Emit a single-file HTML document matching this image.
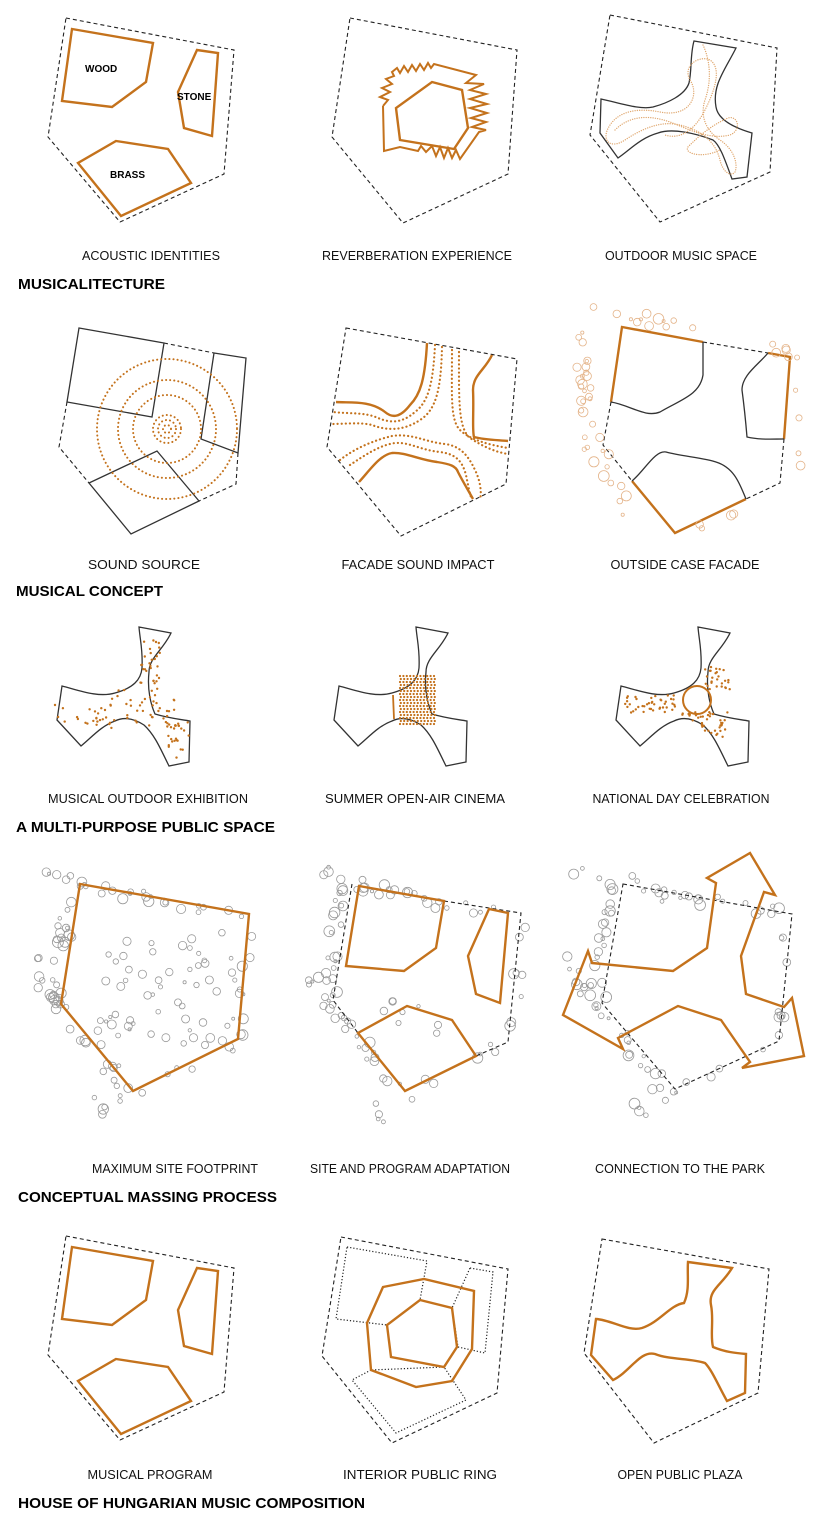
<!DOCTYPE html>
<html><head><meta charset="utf-8">
<style>
html,body{margin:0;padding:0;background:#fff;}
svg{display:block;}
.o{fill:none;stroke:#c4721c;stroke-width:2.4;stroke-linejoin:miter;}
.k{fill:none;stroke:#333;stroke-width:1.3;}
.d{fill:none;stroke:#222;stroke-width:1.1;stroke-dasharray:4 3;}
.dt{fill:none;stroke:#222;stroke-width:1.2;stroke-dasharray:1.2 2;}
.od{fill:none;stroke:#c4721c;stroke-width:2.2;stroke-dasharray:0.1 4;stroke-linecap:round;}
.ol{fill:none;stroke:#e0a870;stroke-width:1.3;stroke-dasharray:0.1 2.2;stroke-linecap:round;}
.lb{font-family:"Liberation Sans Narrow","Liberation Sans",sans-serif;font-size:13px;fill:#111;}
.hd{font-family:"Liberation Sans Narrow","Liberation Sans",sans-serif;font-size:15px;font-weight:bold;fill:#000;}
.sm{font-family:"Liberation Sans",sans-serif;font-size:10px;font-weight:bold;fill:#000;}
</style></head><body>
<svg id="s" width="818" height="1523" viewBox="0 0 818 1523" xmlns="http://www.w3.org/2000/svg">
<!-- ROW 1 -->
<polygon class="d" points="66,18 234,50 224,174 120,222 48,137"/>
<polygon class="o" points="72,29 153,43 146,82 112,107 62,101"/>
<polygon class="o" points="197,50 218,53 212,136 184,128 178,92"/>
<polygon class="o" points="116,141 168,149 191,183 121,216 78,163"/>
<text class="sm" x="85" y="72">WOOD</text>
<text class="sm" x="177" y="100">STONE</text>
<text class="sm" x="110" y="178">BRASS</text>

<polygon class="d" points="350,18 517,50 508,174 403,223 332,137"/>
<polygon class="o" points="432,82 462,90 468,128 454,149 400,140 396,108"/>
<polyline class="o" style="stroke-width:2" points="383,106 388,100 380,97 390,92 382,88 392,84 386,79 394,76 392,72 397,68 400,73 404,66 408,72 412,65 416,71 420,64 424,70 428,63 431,68 434,64 476,75 466,83 484,84 470,90 486,94 470,99 487,104 470,108 487,113 471,118 486,122 472,127 486,130 479,132 460,159 456,150 452,158 448,148 444,158 440,147 436,156 432,146 426,152 421,146 418,151 400,147 384,151 383,106"/>

<polygon class="d" points="610,15 777,48 770,172 660,222 590,135"/>
<path class="k" d="M694,41 L736,48 C725,70 712,85 716,107 C718,120 735,128 752,133 L747,177 L732,179 C725,160 720,145 713,140 C695,133 672,128 658,133 C640,138 630,150 618,158 L600,133 L601,99 C620,103 640,110 653,107 C668,103 685,95 689,83 C692,70 690,55 694,41 Z"/>
<path class="ol" d="M703,45 C710,60 712,80 705,100 C700,115 705,130 720,140 C735,150 738,165 735,172 C730,178 722,170 720,160 C715,140 700,130 680,125 C660,120 640,130 625,140 C610,150 600,140 610,125 C620,110 640,108 660,112 C690,118 700,95 690,80 C682,65 700,55 710,60 C722,68 715,90 705,110 C695,130 680,140 665,135"/>
<path class="ol" d="M615,130 C630,115 650,115 670,122 C690,130 710,140 730,135 C742,130 738,115 728,118 C712,125 700,135 690,145 C680,152 700,160 720,150"/>

<text class="lb" x="151" y="260" text-anchor="middle" textLength="138" lengthAdjust="spacingAndGlyphs">ACOUSTIC IDENTITIES</text>
<text class="lb" x="417" y="260" text-anchor="middle" textLength="190" lengthAdjust="spacingAndGlyphs">REVERBERATION EXPERIENCE</text>
<text class="lb" x="681" y="260" text-anchor="middle" textLength="152" lengthAdjust="spacingAndGlyphs">OUTDOOR MUSIC SPACE</text>
<text class="hd" x="18" y="289" textLength="147" lengthAdjust="spacingAndGlyphs">MUSICALITECTURE</text>

<!-- ROW 2 -->
<polyline class="d" points="164,343 214,353"/>
<polyline class="d" points="67,402 59,447 89,483"/>
<polyline class="d" points="238,453 236,484 199,501"/>
<polygon class="k" points="79,328 164,343 152,417 67,402"/>
<polygon class="k" points="214,353 246,358 238,453 201,439"/>
<polygon class="k" points="157,451 199,501 131,534 89,483"/>
<g class="od" style="stroke-width:2">
<circle cx="167" cy="429" r="70"/><circle cx="167" cy="429" r="49"/><circle cx="167" cy="429" r="34"/>
<circle cx="167" cy="429" r="14"/><circle cx="167" cy="429" r="9"/><circle cx="167" cy="429" r="4"/></g>

<polygon class="d" points="346,328 517,359 506,484 401,536 327,447"/>
<path class="o" d="M427,343 C425,380 420,395 410,405 C400,418 392,418 385,412 C370,400 350,403 336,402"/>
<path class="od" d="M435,345 C433,385 428,402 415,412 C400,425 388,422 378,418 C365,412 350,414 333,412"/>
<path class="od" d="M442,347 C441,390 436,410 420,420 C402,432 385,430 372,425 C360,422 345,424 332,424"/>
<path class="od" d="M452,350 C452,395 450,420 460,430 C470,440 490,445 508,448"/>
<path class="od" d="M459,352 C459,400 458,428 470,438 C482,446 495,452 508,454"/>
<path class="o" d="M492,355 C485,370 473,375 473,390 C474,410 472,430 474,437 C485,440 498,440 508,441"/>
<path class="od" d="M350,465 C365,455 380,445 395,443 C410,442 420,450 440,452 C455,454 462,460 466,475 C468,485 470,495 472,500"/>
<path class="od" d="M340,460 C355,448 375,440 392,436 C412,433 425,442 445,444 C460,446 468,455 475,470 C480,480 482,492 480,500"/>
<path class="o" d="M359,482 C370,470 380,455 392,453 C405,452 420,460 437,462 C450,464 456,466 458,472 C462,480 468,490 473,499"/>

<polyline class="d" points="703,342 768,353"/>
<polyline class="d" points="611,402 603,445 632,481"/>
<polyline class="d" points="784,439 780,483 746,499"/>
<polyline class="o" points="611,402 622,327 703,342"/>
<polyline class="o" points="768,353 790,357 784,439"/>
<polyline class="o" points="632,481 675,533 746,499"/>
<path class="k" d="M611,402 C630,405 645,418 660,412 C680,400 700,395 703,375 L703,342"/>
<path class="k" d="M768,353 C758,365 742,375 742,390 C744,405 746,425 747,437 C760,440 772,439 784,439"/>
<path class="k" d="M632,481 C645,470 655,450 666,452 C680,456 705,458 716,462 C735,468 740,485 746,499"/>

<text class="lb" x="144" y="569" text-anchor="middle" textLength="112" lengthAdjust="spacingAndGlyphs">SOUND SOURCE</text>
<text class="lb" x="418" y="569" text-anchor="middle" textLength="153" lengthAdjust="spacingAndGlyphs">FACADE SOUND IMPACT</text>
<text class="lb" x="685" y="569" text-anchor="middle" textLength="149" lengthAdjust="spacingAndGlyphs">OUTSIDE  CASE FACADE</text>
<text class="hd" x="16" y="596" textLength="147" lengthAdjust="spacingAndGlyphs">MUSICAL CONCEPT</text>

<!-- ROW 3 -->
<g id="blob"><path class="k" d="M416,627 L448,633 C440,650 426,658 426,672 C424,690 428,705 432,714 C445,718 455,719 467,721 L466,762 L446,766 C438,750 432,735 421,725 C410,718 400,717 392,721 C378,726 368,738 358,746 L334,720 L339,686 C355,690 375,698 392,693 C410,688 418,680 419,668 C420,650 417,640 416,627 Z"/></g>
<use href="#blob" transform="translate(-277,0)"/>
<use href="#blob" transform="translate(282,0)"/>
<line x1="393" y1="695" x2="394" y2="719" stroke="#c4721c" stroke-width="1.8"/>
<circle cx="697" cy="700" r="14" fill="none" stroke="#c4721c" stroke-width="2"/>
<g id="dots" fill="#c4721c"></g>

<text class="lb" x="148" y="803" text-anchor="middle" textLength="200" lengthAdjust="spacingAndGlyphs">MUSICAL OUTDOOR EXHIBITION</text>
<text class="lb" x="415" y="803" text-anchor="middle" textLength="180" lengthAdjust="spacingAndGlyphs">SUMMER OPEN-AIR CINEMA</text>
<text class="lb" x="681" y="803" text-anchor="middle" textLength="177" lengthAdjust="spacingAndGlyphs">NATIONAL DAY CELEBRATION</text>
<text class="hd" x="16" y="832" textLength="259" lengthAdjust="spacingAndGlyphs">A MULTI-PURPOSE PUBLIC SPACE</text>

<!-- ROW 4 -->
<g id="trees" fill="none" stroke="#999" stroke-width="0.8"></g>
<polygon class="o" points="80,884 249,914 238,1039 133,1091 61,1004"/>
<polyline class="d" points="444,901 521,913 508,1042 476,1056"/>
<polyline class="d" points="352,884 333,1000 358,1033"/>
<polygon class="o" points="359,886 444,901 436,948 404,971 346,966"/>
<polygon class="o" points="489,909 508,913 500,1003 476,994 468,956"/>
<polygon class="o" points="407,1006 452,1020 476,1056 405,1091 358,1033"/>
<polygon class="d" points="623,884 792,914 779,1041 675,1089 602,1003"/>
<polygon class="o" points="592,963 673,971 707,948 716,883 707,878 750,853 775,895 764,892 741,956 746,994 784,1007 792,998 804,1056 742,1068 750,1062 721,1020 678,1006 618,1038 623,1049 563,1015 588,951"/>

<text class="lb" x="175" y="1173" text-anchor="middle" textLength="166" lengthAdjust="spacingAndGlyphs">MAXIMUM SITE FOOTPRINT</text>
<text class="lb" x="410" y="1173" text-anchor="middle" textLength="200" lengthAdjust="spacingAndGlyphs">SITE AND PROGRAM ADAPTATION</text>
<text class="lb" x="680" y="1173" text-anchor="middle" textLength="170" lengthAdjust="spacingAndGlyphs">CONNECTION TO THE PARK</text>
<text class="hd" x="18" y="1202" textLength="259" lengthAdjust="spacingAndGlyphs">CONCEPTUAL MASSING PROCESS</text>

<!-- ROW 5 -->
<g transform="translate(0,1218)">
<polygon class="d" points="66,18 234,50 224,174 120,222 48,137"/>
<polygon class="o" points="72,29 153,43 146,82 112,107 62,101"/>
<polygon class="o" points="197,50 218,53 212,136 184,128 178,92"/>
<polygon class="o" points="116,141 168,149 191,183 121,216 78,163"/>
</g>
<polygon class="d" points="341,1237 508,1269 497,1393 392,1443 322,1356"/>
<polygon class="dt" points="347,1247 427,1261 420,1300 387,1325 336,1319"/>
<polygon class="dt" points="470,1268 493,1272 485,1353 458,1347 452,1308"/>
<polygon class="dt" points="371,1370 352,1380 396,1433 466,1400 444,1367"/>
<polygon class="o" points="383,1287 424,1279 474,1291 472,1349 452,1381 416,1387 371,1370 367,1323"/>
<polygon class="o" points="420,1300 452,1308 457,1347 444,1367 391,1357 387,1325"/>
<polygon class="d" points="602,1239 769,1269 758,1393 654,1443 584,1353"/>
<path class="o" d="M688,1262 L732,1268 C722,1285 708,1290 711,1305 C714,1320 710,1335 713,1347 C725,1352 735,1353 746,1354 L745,1393 L727,1401 C718,1385 712,1370 705,1363 C690,1358 670,1360 655,1354 C640,1350 630,1372 613,1380 L591,1355 L596,1319 C612,1320 628,1332 642,1328 C660,1322 670,1305 684,1303 C690,1290 687,1275 688,1262 Z"/>

<text class="lb" x="150" y="1479" text-anchor="middle" textLength="125" lengthAdjust="spacingAndGlyphs">MUSICAL PROGRAM</text>
<text class="lb" x="420" y="1479" text-anchor="middle" textLength="154" lengthAdjust="spacingAndGlyphs">INTERIOR PUBLIC RING</text>
<text class="lb" x="680" y="1479" text-anchor="middle" textLength="125" lengthAdjust="spacingAndGlyphs">OPEN PUBLIC PLAZA</text>
<text class="hd" x="18" y="1508" textLength="347" lengthAdjust="spacingAndGlyphs">HOUSE OF HUNGARIAN MUSIC COMPOSITION</text>
<g id="otrees" fill="none" stroke="#e4b48a" stroke-width="0.8"></g>
</svg>
<script>
(function(){
var s=1;function r(){s=(s*16807)%2147483647;return s/2147483647;}
var NS="http://www.w3.org/2000/svg";
function c(g,x,y,rad){var e=document.createElementNS(NS,"circle");e.setAttribute("cx",x.toFixed(1));e.setAttribute("cy",y.toFixed(1));e.setAttribute("r",rad);g.appendChild(e);}
var D=document.getElementById("dots");
for(var i=0;i<120;i++){var t=r();var x,y;
 if(t<0.35){x=105+r()*70;y=690+r()*40;}else if(t<0.6){x=140+r()*20;y=640+r()*60;}else if(t<0.8){x=55+r()*55;y=705+r()*20;}else{x=165+r()*25;y=720+r()*40;}
 c(D,x,y,1.2);}
for(var a=0;a<11;a++)for(var b=0;b<17;b++){c(D,400+a*3.4+(b%2)*0.8,676+b*3,1.1);}
for(var i=0;i<110;i++){var t=r(),x,y;
 if(t<0.3){x=625+r()*50;y=695+r()*18;}else if(t<0.55){x=705+r()*25;y=665+r()*25;}else if(t<0.8){x=700+r()*30;y=712+r()*25;}else{x=682+r()*30;y=712+r()*10;}
 c(D,x,y,1.2);}
var T=document.getElementById("trees");
function edge(x1,y1,x2,y2,n,spread,g,rmax){for(var i=0;i<n;i++){var t=r();c(g,x1+(x2-x1)*t+(r()-0.5)*spread,y1+(y2-y1)*t+(r()-0.5)*spread,(1.5+r()*rmax).toFixed(1));}}
[0,273,537].forEach(function(o){
 edge(40+o,870,100+o,880,5,10,T,4);
 edge(75+o,885,250+o,915,22,14,T,4);
 edge(70+o,890,55+o,1005,22,16,T,4);
 edge(30+o,960,70+o,1020,10,20,T,4);
 edge(60+o,1005,130+o,1095,16,18,T,4);
 edge(95+o,1090,110+o,1120,4,10,T,4);
 edge(250+o,915,240+o,1040,8,10,T,4);
 edge(240+o,1040,140+o,1090,6,12,T,4);
});
for(var i=0;i<60;i++)c(T,95+r()*140,930+r()*120,(1.5+r()*3).toFixed(1));
for(var i=0;i<8;i++)c(T,380+r()*60,1000+r()*40,(1.5+r()*3).toFixed(1));
var O=document.getElementById("otrees");
edge(580,305,700,330,12,14,O,4);
edge(578,330,590,420,22,14,O,4);
edge(760,345,800,355,6,8,O,4);
edge(590,440,640,540,14,18,O,4);
edge(680,535,740,510,4,8,O,4);
edge(798,380,800,470,4,6,O,3);
})();
</script>
</body></html>
